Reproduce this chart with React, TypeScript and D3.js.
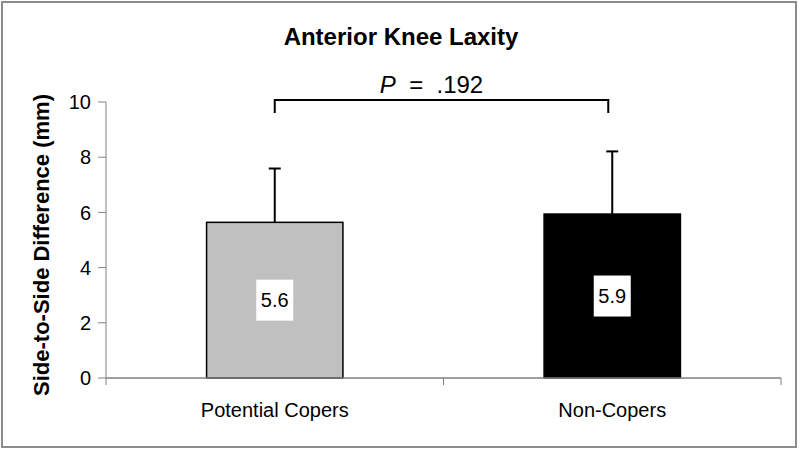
import React from "react";
import * as d3 from "d3";

const categories = ["Potential Copers", "Non-Copers"];
const means = [5.64, 5.94];
const sds = [1.95, 2.27];
const barFills = ["#C0C0C0", "#000000"];
const yTicks = [0, 2, 4, 6, 8, 10];
const pLabel = ".192";
const title = "Anterior Knee Laxity";
const yTitle = "Side-to-Side Difference (mm)";

const W = 800;
const H = 451;
const FONT = "'Liberation Sans', Arial, Helvetica, sans-serif";

export default function App() {
  const x = d3.scaleBand<string>().domain(categories).range([106, 781]).padding(0);
  const y = d3.scaleLinear().domain([0, 10]).range([378, 102]);
  const barW = x.bandwidth() * 0.404;
  const boundaries = [106, ...categories.map((c) => (x(c) as number) + x.bandwidth())];
  const centers = categories.map((c) => (x(c) as number) + x.bandwidth() / 2);
  const fmt = d3.format(".1f");
  const brY = 100;
  const brDrop = 13;

  return (
    <svg
      width={W}
      height={H}
      style={{ position: "absolute", left: 0, top: 0, display: "block", background: "#fff" }}
      fontFamily={FONT}
    >
      <rect x={2} y={2} width={794} height={445} fill="#fff" stroke="#8c8c8c" strokeWidth={2} />
      <text x={401} y={45} textAnchor="middle" fontSize={24} fontWeight="bold" fill="#000">
        {title}
      </text>
      <text
        transform={`translate(49,245) rotate(-90)`}
        textAnchor="middle"
        fontSize={22}
        fontWeight="bold"
        fill="#000"
      >
        {yTitle}
      </text>
      {/* y axis */}
      <line x1={106} x2={106} y1={y(10)} y2={y(0)} stroke="#808080" strokeWidth={1} />
      {yTicks.map((t) => (
        <g key={t}>
          <line x1={98} x2={106} y1={y(t)} y2={y(t)} stroke="#808080" strokeWidth={1} />
          <text x={91} y={y(t)} dy="0.36em" textAnchor="end" fontSize={20} fill="#000">
            {t}
          </text>
        </g>
      ))}
      {/* bars */}
      {categories.map((c, i) => {
        const cx = centers[i];
        const top = y(means[i]);
        const bot = y(0);
        const errTop = y(means[i] + sds[i]);
        const midY = (top + bot) / 2;
        return (
          <g key={c}>
            <rect
              x={cx - barW / 2}
              y={top}
              width={barW}
              height={bot - top}
              fill={barFills[i]}
              stroke="#000"
              strokeWidth={1.5}
            />
            <line x1={cx} x2={cx} y1={top} y2={errTop} stroke="#000" strokeWidth={2} />
            <line x1={cx - 6} x2={cx + 6} y1={errTop} y2={errTop} stroke="#000" strokeWidth={2} />
            <rect x={cx - 18.5} y={midY - 20.5} width={37} height={41} fill="#fff" />
            <text x={cx} y={midY} dy="0.36em" textAnchor="middle" fontSize={20} fill="#000">
              {fmt(means[i])}
            </text>
            <text x={cx} y={417} textAnchor="middle" fontSize={20} fill="#000">
              {c}
            </text>
          </g>
        );
      })}
      {/* x axis */}
      <line x1={106} x2={781} y1={y(0)} y2={y(0)} stroke="#808080" strokeWidth={1.5} />
      {boundaries.map((b, i) => (
        <line key={i} x1={b} x2={b} y1={y(0)} y2={y(0) + 7} stroke="#808080" strokeWidth={1} />
      ))}
      {/* significance bracket */}
      <path
        d={`M${centers[0]},${brY + brDrop}V${brY}H${centers[1] - 4}V${brY + brDrop}`}
        fill="none"
        stroke="#000"
        strokeWidth={2}
      />
      <text x={431.5} y={92.5} textAnchor="middle" fontSize={24} fill="#000" style={{ whiteSpace: "pre" }}>
        <tspan fontStyle="italic">P</tspan>
        <tspan>{"  =  " + pLabel}</tspan>
      </text>
    </svg>
  );
}
